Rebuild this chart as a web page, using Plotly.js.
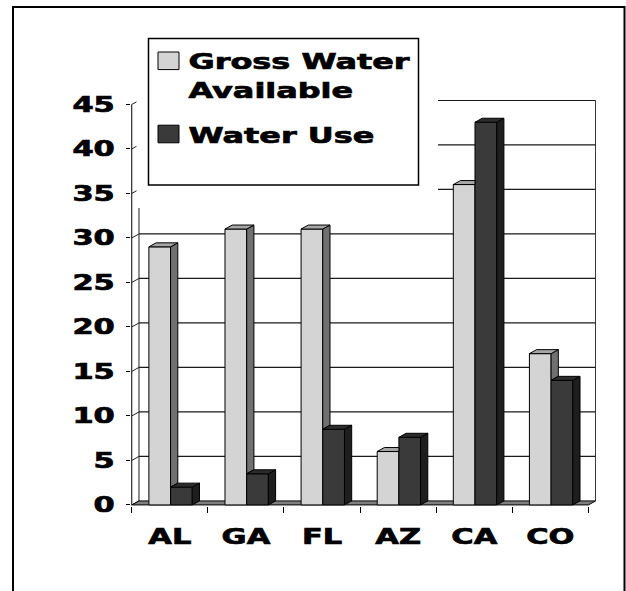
<!DOCTYPE html>
<html><head><meta charset="utf-8">
<script src="https://cdn.plot.ly/plotly-3.0.1.min.js"></script>
<style>html,body{margin:0;padding:0;background:#fff;}#chart{width:626px;height:591px;}</style>
</head><body><div id="chart"></div>
<script>
// ---- data ----
const states = ['AL', 'GA', 'FL', 'AZ', 'CA', 'CO'];
const grossWater = [29, 31, 31, 6, 36, 17];
const waterUse = [2, 3.5, 8.5, 7.6, 43, 14];
const yTicks = [0, 5, 10, 15, 20, 25, 30, 35, 40, 45];
const seriesNames = ['Gross Water<br>Available', 'Water Use'];

// ---- geometry / style ----
const W = 626, H = 591;
const M = {l: 131, r: 30, t: 100, b: 85};
const XR = [-0.51, 5.6], YR = [-0.12, 45.5];
const DX = 0.095, DY = 0.45;           // 3D depth offset in axis units
const BW = 0.285, OFF_G = -0.275, OFF_U = OFF_G + BW;
const plotW = W - M.l - M.r, plotH = H - M.t - M.b;
const px = v => (v - M.l) / plotW;
const py = v => (H - M.b - v) / plotH;
const FONT = 'DejaVu Sans, Verdana, sans-serif';
const STRETCH = 1.45;
const C = {gFront: '#d4d4d4', gSide: '#707070', gTop: '#a6a6a6',
           uFront: '#3a3a3a', uSide: '#1e1e1e', uTop: '#2c2c2c', floor: '#7f7f7f'};

const xs = states.map((_, i) => i);
const xMin = -0.5, xMax = states.length - 0.5, yMax = yTicks[yTicks.length - 1];

// ---- 3D faces (scatter polygons in data coordinates) ----
function poly(arrX, arrY, pts) { pts.forEach(p => { arrX.push(p[0]); arrY.push(p[1]); }); arrX.push(null); arrY.push(null); }
const gSide = {x: [], y: []}, gTop = {x: [], y: []}, uSide = {x: [], y: []}, uTop = {x: [], y: []};
xs.forEach(i => {
  const g = grossWater[i], u = waterUse[i];
  const x0 = i + OFF_G, x1 = x0 + BW, x2 = x1 + BW;
  if (g > u) {
    poly(gSide.x, gSide.y, [[x1, u], [x1 + DX, u + DY], [x1 + DX, g + DY], [x1, g], [x1, u]]);
    poly(gTop.x, gTop.y, [[x0, g], [x1, g], [x1 + DX, g + DY], [x0 + DX, g + DY], [x0, g]]);
  } else {
    poly(gTop.x, gTop.y, [[x0, g], [x1, g], [x1, g + DY], [x0 + DX, g + DY], [x0, g]]);
  }
  poly(uSide.x, uSide.y, [[x2, 0], [x2 + DX, DY], [x2 + DX, u + DY], [x2, u], [x2, 0]]);
  poly(uTop.x, uTop.y, [[x1, u], [x2, u], [x2 + DX, u + DY], [x1 + DX, u + DY], [x1, u]]);
});
function face(d, col) {
  return {type: 'scatter', mode: 'lines', x: d.x, y: d.y, fill: 'toself', fillcolor: col,
          line: {color: '#000', width: 1}, hoverinfo: 'skip', showlegend: false};
}

const data = [
  {type: 'bar', name: seriesNames[0], x: xs, y: grossWater, width: BW, offset: OFF_G,
   marker: {color: C.gFront, line: {color: '#000', width: 1}}, legendgroup: 'a'},
  {type: 'bar', name: seriesNames[1], x: xs, y: waterUse, width: BW, offset: OFF_U,
   marker: {color: C.uFront, line: {color: '#000', width: 1}}, legendgroup: 'b'},
  face(gSide, C.gSide), face(gTop, C.gTop), face(uSide, C.uSide), face(uTop, C.uTop)
];

// ---- shapes: back wall, grid, floor, legend frame, outer frame ----
const shapes = [];
yTicks.forEach(v => {
  if (v > 0) shapes.push({type: 'line', xref: 'x', yref: 'y', layer: 'below', x0: xMin + DX, x1: xMax + DX, y0: v + DY, y1: v + DY, line: {color: '#1a1a1a', width: 1.2}});
  shapes.push({type: 'line', xref: 'x', yref: 'y', layer: 'below', x0: xMin, x1: xMin + DX, y0: v, y1: v + DY, line: {color: '#222', width: 1}});
});
shapes.push({type: 'line', xref: 'x', yref: 'y', layer: 'below', x0: xMin + DX, x1: xMin + DX, y0: DY, y1: yMax + DY, line: {color: '#222', width: 1}});
shapes.push({type: 'line', xref: 'x', yref: 'y', layer: 'below', x0: xMax + DX, x1: xMax + DX, y0: DY, y1: yMax + DY, line: {color: '#222', width: 1}});
shapes.push({type: 'line', xref: 'x', yref: 'y', layer: 'below', x0: xMin, x1: xMin, y0: 0, y1: yMax, line: {color: '#000', width: 1}});
shapes.push({type: 'path', xref: 'x', yref: 'y', layer: 'below',
  path: `M${xMin},0 L${xMax},0 L${xMax + DX},${DY} L${xMin + DX},${DY} Z`,
  fillcolor: C.floor, line: {color: '#000', width: 1}});
// white area behind the legend
shapes.push({type: 'rect', xref: 'paper', yref: 'paper', layer: 'above',
  x0: px(136.5), x1: px(438), y0: py(208), y1: py(30), fillcolor: '#fff', line: {width: 0}});
// legend frame
shapes.push({type: 'rect', xref: 'paper', yref: 'paper', layer: 'above',
  x0: px(148.5), x1: px(418.5), y0: py(185), y1: py(38.5), fillcolor: 'rgba(0,0,0,0)', line: {color: '#000', width: 1.5}});
// outer frame
shapes.push({type: 'rect', xref: 'paper', yref: 'paper', layer: 'above',
  x0: px(13), x1: px(624.5), y0: py(600), y1: py(7), fillcolor: 'rgba(0,0,0,0)', line: {color: '#000', width: 2}});

const layout = {
  width: W, height: H, margin: M, paper_bgcolor: '#fff', plot_bgcolor: 'rgba(0,0,0,0)',
  barmode: 'overlay', showlegend: true, hovermode: false,
  font: {family: FONT, size: 21, color: '#000', weight: 'bold'},
  xaxis: {range: XR, tickmode: 'array', tickvals: xs, ticktext: states, ticks: '',
          showgrid: false, zeroline: false, showline: false, fixedrange: true,
          ticklabelstandoff: 16,
          tickfont: {family: FONT, size: 21, color: '#000', weight: 'bold'},
          minor: {tickmode: 'linear', tick0: -0.5, dtick: 1, ticks: 'outside', ticklen: 6, tickwidth: 1, tickcolor: '#000', showgrid: false}},
  yaxis: {range: YR, tickmode: 'array', tickvals: yTicks, ticks: 'outside', ticklen: 4, tickwidth: 1, tickcolor: '#000',
          showgrid: false, zeroline: false, showline: false, fixedrange: true,
          ticklabelstandoff: 7,
          tickfont: {family: FONT, size: 21, color: '#000', weight: 'bold'}},
  legend: {x: px(148.5), y: py(40), xanchor: 'left', yanchor: 'top', bgcolor: 'rgba(0,0,0,0)', borderwidth: 0,
           valign: 'top', traceorder: 'grouped', tracegroupgap: 13,
           font: {family: FONT, size: 22, color: '#000', weight: 'bold'}},
  shapes: shapes
};

const gd = document.getElementById('chart');
Plotly.newPlot(gd, data, layout, {displayModeBar: false, staticPlot: true}).then(() => {
  const stretch = el => {
    const L = el.getComputedTextLength();
    if (L > 0) { el.setAttribute('textLength', (L * STRETCH).toFixed(1)); el.setAttribute('lengthAdjust', 'spacingAndGlyphs'); }
  };
  const heavy = el => { el.style.stroke = '#000'; el.style.strokeWidth = '0.7px'; el.style.paintOrder = 'stroke'; };
  gd.querySelectorAll('.xtick text, .ytick text').forEach(t => { stretch(t); heavy(t); });
  gd.querySelectorAll('text.legendtext').forEach(t => {
    const lines = t.querySelectorAll('tspan.line');
    if (lines.length) lines.forEach(stretch); else stretch(t);
    heavy(t);
  });
  gd.querySelectorAll('.legend [clip-path]').forEach(e => e.removeAttribute('clip-path'));
  gd.querySelectorAll('.legendpoints path').forEach(p => p.setAttribute('d', 'M10.5,8.8H-10.5V-8.8H10.5Z'));
});
</script></body></html>
